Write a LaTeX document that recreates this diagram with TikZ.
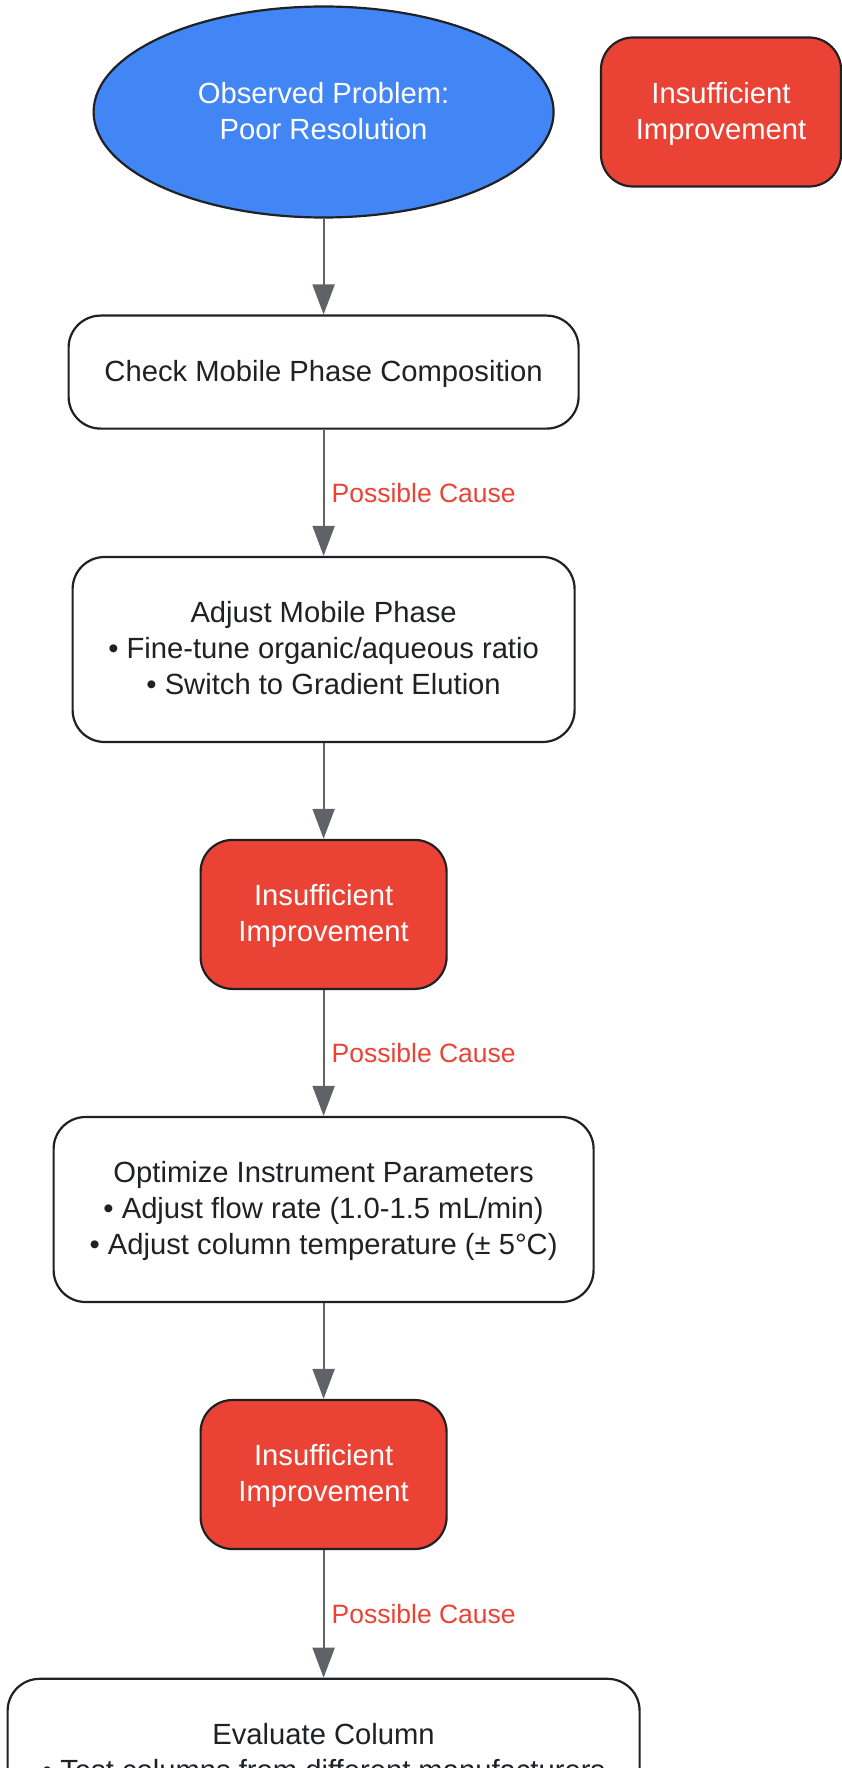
\documentclass[tikz,border=0pt]{standalone}
\usepackage{fontspec}
\setmainfont{Liberation Sans}
\usetikzlibrary{shapes.geometric,arrows.meta}
\definecolor{gblue}{HTML}{4285F4}
\definecolor{gred}{HTML}{EA4335}
\definecolor{inkc}{HTML}{202124}
\definecolor{edgegrey}{HTML}{5F6368}
\newcommand\tline[1]{\rule[-5.8pt]{0pt}{30.2pt}\smash{#1}}
\begin{document}
\begin{tikzpicture}[x=1pt,y=-1pt,
  base/.style={draw=inkc, line width=2.2pt, align=center, inner sep=0pt,
    font=\fontsize{29.2}{36}\selectfont},
  whitebox/.style={base, rounded corners=32pt, fill=white, text=inkc},
  redbox/.style={base, rounded corners=32pt, fill=gred, text=white,
    minimum width=246pt, minimum height=149pt},
  startshape/.style={base, ellipse, fill=gblue, text=white,
    minimum width=460pt, minimum height=211pt},
  flow/.style={draw=edgegrey, line width=2pt, -{Triangle[length=30pt,width=22pt]}},
  lbl/.style={font=\fontsize{26.5}{32}\selectfont, text=gred, anchor=west,
    inner sep=0pt, xshift=7pt}
]
\useasboundingbox (0,0) rectangle (841,1768);

\node[startshape] (obs) at (323.6,112) {\tline{Observed Problem:}\\\tline{Poor Resolution}};
\node[redbox, minimum width=240pt] (side) at (721,112) {\tline{Insufficient}\\\tline{Improvement}};

\node[whitebox, minimum width=510pt, minimum height=113pt] (check) at (323.6,372.1)
  {\tline{Check Mobile Phase Composition}};
\node[whitebox, minimum width=502pt, minimum height=185pt] (adjust) at (323.6,649.5)
  {\tline{Adjust Mobile Phase}\\\tline{• Fine-tune organic/aqueous ratio}\\\tline{• Switch to Gradient Elution}};
\node[redbox] (red2) at (323.6,914.4) {\tline{Insufficient}\\\tline{Improvement}};
\node[whitebox, minimum width=540pt, minimum height=185pt] (opt) at (323.6,1209.5)
  {\tline{Optimize Instrument Parameters}\\\tline{• Adjust flow rate (1.0-1.5 mL/min)}\\\tline{• Adjust column temperature (± 5°C)}};
\node[redbox] (red3) at (323.6,1474.5) {\tline{Insufficient}\\\tline{Improvement}};
\node[whitebox, anchor=north, minimum width=632pt, inner ysep=41pt] (eval) at (323.6,1677.7)
  {\tline{Evaluate Column}\\\tline{• Test columns from different manufacturers}};

\draw[flow] (obs.south) -- (check.north);
\draw[flow] (check.south) -- node[midway, lbl] {Possible Cause} (adjust.north);
\draw[flow] (adjust.south) -- (red2.north);
\draw[flow] (red2.south) -- node[midway, lbl] {Possible Cause} (opt.north);
\draw[flow] (opt.south) -- (red3.north);
\draw[flow] (red3.south) -- node[midway, lbl] {Possible Cause} (eval.north);
\end{tikzpicture}
\end{document}
